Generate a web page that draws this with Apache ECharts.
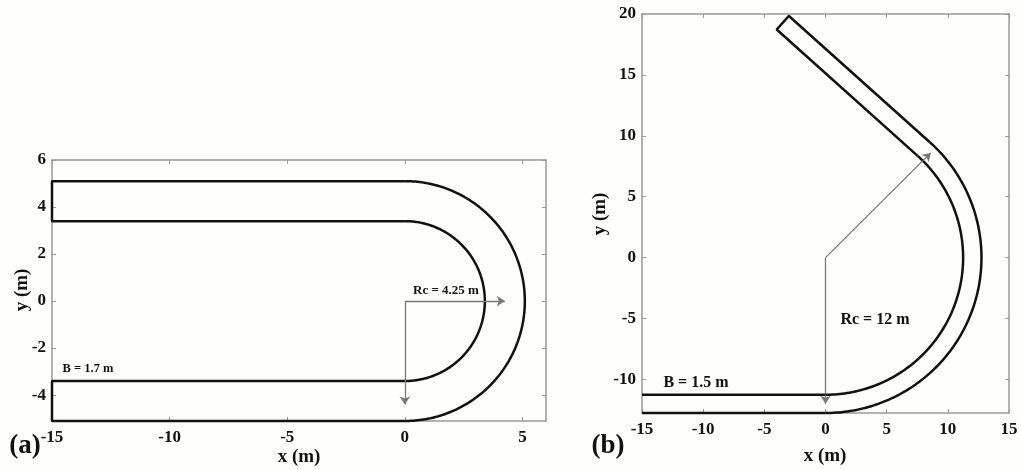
<!DOCTYPE html>
<html lang="en" style="height:100%">
<head>
<meta charset="UTF-8">
<title>Channel bends</title>
<script src="https://cdn.jsdelivr.net/npm/echarts@6/dist/echarts.min.js"></script>
</head>
<body style="height:100%;margin:0;background:#fefefb">
<div id="main" style="width:1021px;height:470px;"></div>
<script type="text/javascript">
// panel (a): U-bend, Rc = 4.25, B = 1.7
var aTopWall = [[0, 5.1], [-15, 5.1], [-15, 3.4], [0, 3.4]];
var aBotWall = [[0, -3.4], [-15, -3.4], [-15, -5.1], [0, -5.1]];
var aArcs = [[3.4, -90, 90], [5.1, -90, 90]];   // radius, start deg, end deg
var aArrows = [[[0, 0], [4.25, 0]], [[0, 0], [0, -4.4]]];
var aXTicks = [-15, -10, -5, 0, 5];
var aYTicks = [-4, -2, 0, 2, 4, 6];

// panel (b): 138 deg bend, Rc = 12, B = 1.5
var bInWall = [[-15, -11.25], [0, -11.25]];
var bOutWall = [[-15, -12.75], [0, -12.75]];
var bArcs = [[11.25, -90, 48], [12.75, -90, 48]];
var bExit = [[8.53, 9.47], [-2.99, 19.84], [-3.99, 18.73], [7.53, 8.36]];
var bArrows = [[[0, 0], [8.6, 8.6]], [[0, 0], [0, -12]]];
var bXTicks = [-15, -10, -5, 0, 5, 10, 15];
var bYTicks = [-10, -5, 0, 5, 10, 15, 20];

var serif = 'Liberation Serif';
var axisGray = '#999999';

function mkX(grid, pos, min, max, ticks, labels) {
    return {
        type: 'value', gridIndex: grid, position: pos, min: min, max: max,
        splitLine: {show: false},
        axisLine: {show: true, onZero: false, lineStyle: {color: axisGray, width: 1.5}},
        axisTick: {show: true, inside: true, length: 4, customValues: ticks, lineStyle: {color: axisGray}},
        axisLabel: {show: labels, customValues: ticks, margin: 8, color: '#111',
            fontFamily: serif, fontSize: 17, fontWeight: 'bold'}
    };
}
function mkY(grid, pos, min, max, ticks, labels) {
    return {
        type: 'value', gridIndex: grid, position: pos, min: min, max: max,
        splitLine: {show: false},
        axisLine: {show: true, onZero: false, lineStyle: {color: axisGray, width: 1.5}},
        axisTick: {show: true, inside: true, length: 4, customValues: ticks, lineStyle: {color: axisGray}},
        axisLabel: {show: labels, customValues: ticks, margin: 6, color: '#111',
            fontFamily: serif, fontSize: 17, fontWeight: 'bold'}
    };
}
function wall(xi, yi, pts) {
    return {type: 'line', xAxisIndex: xi, yAxisIndex: yi, data: pts, showSymbol: false,
        clip: false, silent: true, lineStyle: {color: '#111', width: 2.5}};
}
function arcs(xi, yi, list) {
    return {
        type: 'custom', xAxisIndex: xi, yAxisIndex: yi, data: list, clip: false, silent: true,
        renderItem: function (params, api) {
            var r = api.value(0), a0 = api.value(1), a1 = api.value(2);
            var pts = [];
            for (var d = a0; d <= a1; d += 1) {
                var t = d * Math.PI / 180;
                pts.push(api.coord([r * Math.cos(t), r * Math.sin(t)]));
            }
            return {type: 'polyline', shape: {points: pts},
                style: {stroke: '#111', lineWidth: 2.5, fill: null}};
        }
    };
}
function arrows(xi, yi, list) {
    return {
        type: 'lines', coordinateSystem: 'cartesian2d', xAxisIndex: xi, yAxisIndex: yi,
        data: list.map(function (c) { return {coords: c}; }),
        symbol: ['none', 'arrow'], symbolSize: 8, silent: true,
        lineStyle: {color: '#777', width: 1.3, opacity: 1}
    };
}
function txt(x, y, s, size, rot) {
    return {type: 'text', x: x, y: y, rotation: rot || 0,
        style: {text: s, fill: '#111', font: 'bold ' + size + 'px "Liberation Serif"',
            textAlign: 'center', textVerticalAlign: 'middle'}};
}

var myChart = echarts.init(document.getElementById('main'));
var option = {
    backgroundColor: '#fefefb',
    animation: false,
    grid: [
        {left: 52, top: 160, width: 494, height: 261},
        {left: 642, top: 14, width: 367, height: 399}
    ],
    xAxis: [
        mkX(0, 'bottom', -15, 6, aXTicks, true),
        mkX(0, 'top', -15, 6, aXTicks, false),
        mkX(1, 'bottom', -15, 15, bXTicks, true),
        mkX(1, 'top', -15, 15, bXTicks, false)
    ],
    yAxis: [
        mkY(0, 'left', -5.1, 6, aYTicks, true),
        mkY(0, 'right', -5.1, 6, aYTicks, false),
        mkY(1, 'left', -12.75, 20, bYTicks, true),
        mkY(1, 'right', -12.75, 20, bYTicks, false)
    ],
    series: [
        wall(0, 0, aTopWall),
        wall(0, 0, aBotWall),
        arcs(0, 0, aArcs),
        arrows(0, 0, aArrows),
        wall(2, 2, bInWall),
        wall(2, 2, bOutWall),
        wall(2, 2, bExit),
        arcs(2, 2, bArcs),
        arrows(2, 2, bArrows)
    ],
    graphic: [
        txt(446, 291, 'Rc = 4.25 m', 13),
        txt(88, 369, 'B = 1.7 m', 12.5),
        txt(875, 320, 'Rc = 12 m', 16),
        txt(696, 383, 'B = 1.5 m', 16),
        txt(299, 457, 'x (m)', 19),
        txt(825, 456, 'x (m)', 19),
        txt(22, 290, 'y (m)', 19, Math.PI / 2),
        txt(600, 214, 'y (m)', 19, Math.PI / 2),
        txt(25, 446, '(a)', 27),
        txt(608, 446, '(b)', 27)
    ]
};
myChart.setOption(option);
</script>
</body>
</html>
